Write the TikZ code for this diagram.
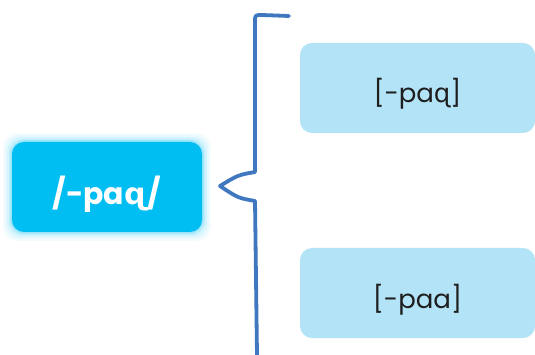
\documentclass[tikz,border=0pt]{standalone}
\usepackage{fontspec}
\setmainfont{Poppins}
\newfontfamily\hookfont{DejaVu Sans}
\usepackage{tikz}

\definecolor{srcblue}{HTML}{00BDF2}
\definecolor{outblue}{HTML}{B3E3F7}
\definecolor{bracecol}{HTML}{3F78BF}
\definecolor{inkcol}{HTML}{1E1E1E}

\begin{document}
\begin{tikzpicture}[x=1pt,y=-1pt]
        \useasboundingbox (0,0) rectangle (535,355);
        % glow behind the source box
        \foreach \g/\o in {9/0.04,7/0.06,5/0.08,3/0.12,1.5/0.18}{
                \fill[srcblue,opacity=\o,rounded corners=14pt] (12-\g,142-\g) rectangle (202+\g,232+\g);
        }
        \begin{scope}[every node/.style={rounded corners=12pt,minimum height=90pt,inner sep=0}]
                \node[fill=srcblue,text=white,minimum width=190pt,font=\bfseries\fontsize{30}{34}\selectfont] (S) at (107,187) {\raisebox{-7pt}[\height][\depth]{/-pa{\hookfont ɋ}/}};
                \node[fill=outblue,text=inkcol,minimum width=235pt,font=\fontsize{26}{30}\selectfont] (R1) at (417.5,88) {\raisebox{-6pt}[\height][\depth]{[-pa{\hookfont ɋ}]}};
                \node[fill=outblue,text=inkcol,minimum width=235pt,font=\fontsize{26}{30}\selectfont] (R2) at (417.5,293) {\raisebox{-7pt}[\height][\depth]{[-paa]}};
        \end{scope}
        % the brace
        \coordinate (top) at (289,16);
        \coordinate (tip) at (220,186);
        \coordinate (bot) at (257,355);
        \draw[bracecol,line width=3.8pt,line cap=round,line join=round]
                (top) -- (262,15) .. controls (255,15) .. (255,22) -- (255,172)
                .. controls (238,175) .. (tip) .. controls (238,198) .. (255,201) -- (bot);
\end{tikzpicture}
\end{document}
